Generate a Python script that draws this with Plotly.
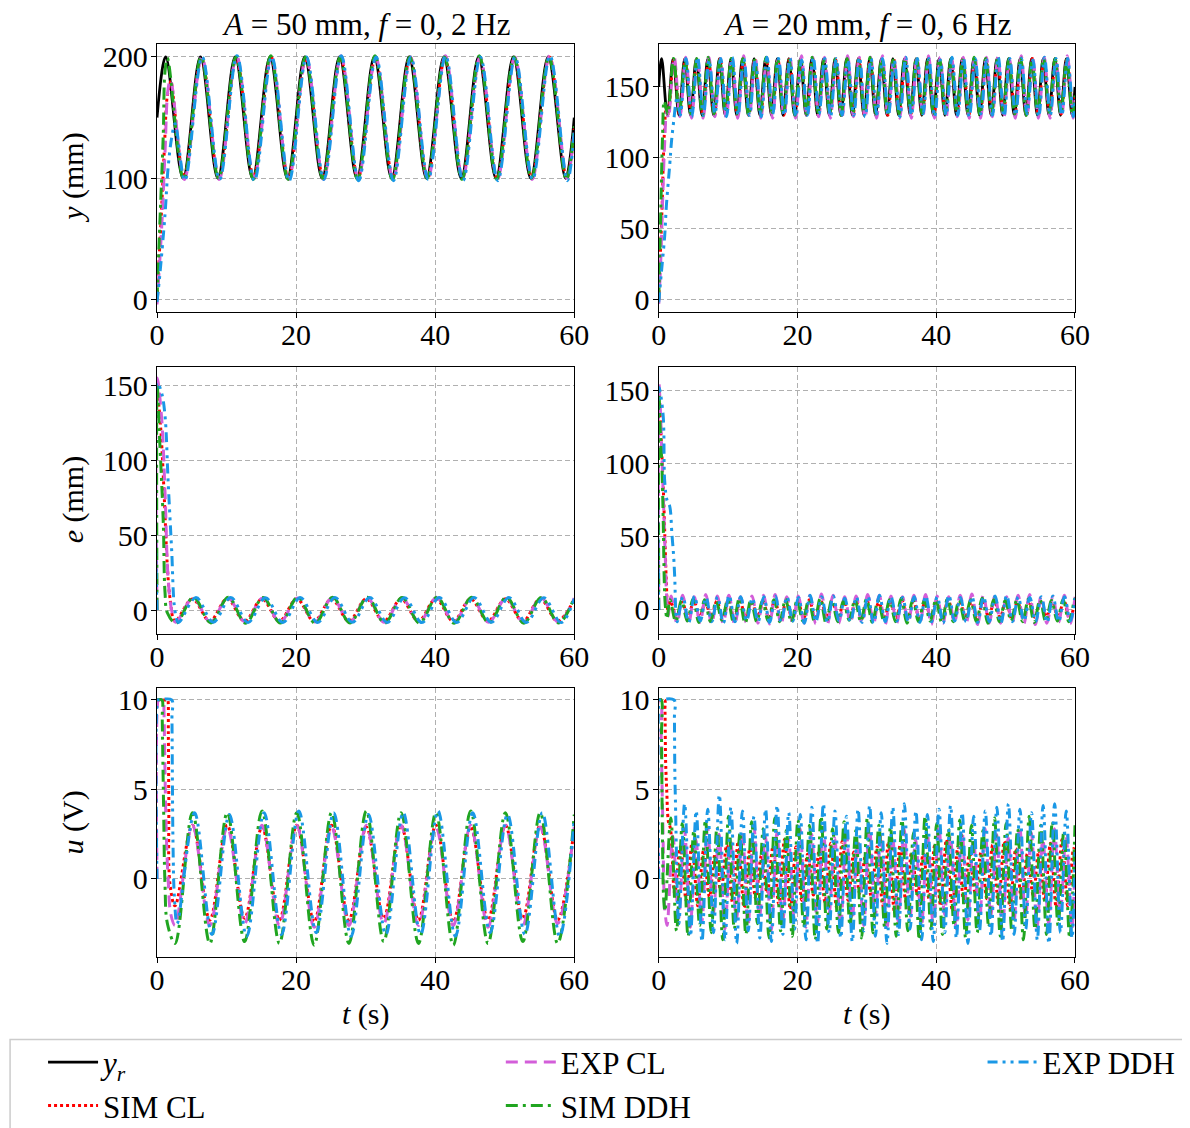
import plotly.graph_objects as go

FONT = "Liberation Serif"
HALF_L = 2.5        # half period (s) of the 0.2 Hz column
HALF_R = 5 / 6      # half period (s) of the 0.6 Hz column
T_END = 60.0

# Each series: transient samples (t, v), then alternating extremes starting at `start`
# spaced by the half period, then the value at t = 60 s.

# ---------------- left column: A = 50 mm, f = 0,2 Hz ----------------
YR_Y_L = dict(t=[0.0], v=[150], start=1.25,
              ext=[200, 100, 200, 100, 200, 100, 200, 100, 200, 100, 200, 100,
                   200, 100, 200, 100, 200, 100, 200, 100, 200, 100, 200, 100], end=150)
SIMCL_Y_L = dict(t=[0, 0.57, 1.05, 1.48, 1.87, 2.0], v=[0, 64, 123, 168, 178, 180], start=3.9,
                 ext=[101, 199, 100, 199, 101, 200, 100, 199, 101, 199, 100, 199,
                      101, 200, 100, 199, 101, 199, 100, 199, 101, 200, 100, 199], end=141)
EXPCL_Y_L = dict(t=[0, 0.67, 1.15, 1.6, 1.95], v=[-4, 59, 121, 174, 181], start=3.95,
                 ext=[99, 200, 99, 201, 100, 200, 99, 200, 99, 201, 100, 200,
                      99, 200, 99, 201, 100, 200, 99, 200, 99, 201, 100, 200], end=140)
SIMDDH_Y_L = dict(t=[0, 0.33, 0.9, 1.15, 1.5], v=[0, 51, 136, 188, 199], start=3.85,
                  ext=[99, 200, 100, 200, 99, 201, 99, 200, 100, 200, 99, 201,
                       99, 200, 100, 200, 99, 201, 99, 200, 100, 200, 99, 201], end=143)
EXPDDH_Y_L = dict(t=[0, 0.4, 1.15, 1.6, 2.1, 2.6], v=[-2, 20, 70, 109, 133, 145], start=4.0,
                  ext=[98, 200, 99, 201, 98, 200, 98, 200, 99, 201, 98, 200,
                       98, 200, 99, 201, 98, 200, 98, 200, 99, 201, 98, 200], end=138)

SIMCL_E_L = dict(t=[0, 0.57, 1.05, 1.48, 1.87], v=[150, 119, 75, 30, 8], start=2.6,
                 ext=[-7.5, 7.4, -7.4, 7.5, -7.5, 7.4, -7.4, 7.5, -7.5, 7.4, -7.4, 7.5,
                      -7.5, 7.4, -7.4, 7.5, -7.5, 7.4, -7.4, 7.5, -7.5, 7.4, -7.4, 7.5], end=7.3)
EXPCL_E_L = dict(t=[0, 0.03, 0.67, 1.15, 1.6, 2.1], v=[0, 155, 128, 79, 21, 0], start=2.7,
                 ext=[-8.2, 8.0, -8.0, 8.2, -8.1, 8.1, -8.2, 8.0, -8.0, 8.2, -8.1, 8.1,
                      -8.2, 8.0, -8.0, 8.2, -8.1, 8.1, -8.2, 8.0, -8.0, 8.2, -8.1, 8.1], end=7.9)
SIMDDH_E_L = dict(t=[0, 0.03, 0.33, 0.9, 1.15, 1.5], v=[0, 150, 119, 59, 12, -2], start=2.75,
                  ext=[-8.8, 8.5, -8.6, 8.6, -8.8, 8.4, -8.7, 8.6, -8.8, 8.5, -8.6, 8.6,
                       -8.8, 8.4, -8.7, 8.6, -8.8, 8.5, -8.6, 8.6, -8.8, 8.4, -8.7, 8.6], end=8.3)
EXPDDH_E_L = dict(t=[0, 0.03, 0.67, 1.15, 1.6, 2.1, 2.6], v=[0, 152, 145, 130, 86, 41, -1], start=3.1,
                  ext=[-8.3, 8.3, -8.2, 8.4, -8.3, 8.2, -8.4, 8.3, -8.3, 8.3, -8.2, 8.4,
                       -8.3, 8.2, -8.4, 8.3, -8.3, 8.3, -8.2, 8.4, -8.3, 8.2, -8.4, 8.3], end=7.5)

SIMCL_U_L = dict(t=[0, 1.5, 1.55, 1.63, 1.7, 1.87], v=[10, 10, 10, 8.1, 4.4, -0.3], start=2.6,
                 ext=[-1.5, 3.0, -2.3, 3.0, -2.2, 2.9, -2.3, 3.0, -2.4, 3.0, -2.3, 2.9,
                      -2.2, 3.0, -2.3, 3.0, -2.4, 2.9, -2.3, 3.0, -2.2, 3.0, -2.3, 2.9], end=2.9)
EXPCL_U_L = dict(t=[0, 0.18, 0.25, 0.95, 1.0, 1.3, 1.6, 2.0], v=[0, 10, 10, 10, 9.5, 3.0, 0.0, -2.0], start=2.6,
                 ext=[-2.6, 3.0, -2.6, 2.9, -2.5, 3.0, -2.6, 3.0, -2.7, 2.9, -2.6, 3.0,
                      -2.5, 3.0, -2.6, 2.9, -2.6, 3.0, -2.7, 3.0, -2.6, 2.9, -2.5, 3.0], end=2.9)
SIMDDH_U_L = dict(t=[0, 0.7, 0.75, 0.95, 1.15, 1.5], v=[10, 10, 9.0, 4.0, -0.3, -2.5], start=2.6,
                  ext=[-3.6, 3.7, -3.6, 3.7, -3.5, 3.8, -3.6, 3.7, -3.7, 3.7, -3.6, 3.8,
                       -3.5, 3.7, -3.6, 3.7, -3.7, 3.8, -3.6, 3.7, -3.5, 3.7, -3.6, 3.8], end=3.6)
EXPDDH_U_L = dict(t=[0, 0.12, 0.2, 2.1, 2.15, 2.3, 2.5], v=[0, 10, 10, 10, 9.0, 2.0, -1.0], start=2.9,
                  ext=[-2.5, 3.7, -3.1, 3.6, -3.2, 3.7, -3.1, 3.8, -3.0, 3.7, -3.2, 3.6,
                       -3.1, 3.7, -3.1, 3.8, -3.2, 3.7, -3.0, 3.6, -3.1, 3.7, -3.2, 3.8], end=3.4)

# ---------------- right column: A = 20 mm, f = 0,6 Hz ----------------
YR_Y_R = dict(t=[0.0], v=[150], start=5 / 12,
              ext=[170, 130, 170, 130, 170, 130, 170, 130, 170, 130, 170, 130, 170, 130, 170, 130, 170, 130,
                   170, 130, 170, 130, 170, 130, 170, 130, 170, 130, 170, 130, 170, 130, 170, 130, 170, 130,
                   170, 130, 170, 130, 170, 130, 170, 130, 170, 130, 170, 130, 170, 130, 170, 130, 170, 130,
                   170, 130, 170, 130, 170, 130, 170, 130, 170, 130, 170, 130, 170, 130, 170, 130, 170, 130], end=150)
SIMCL_Y_R = dict(t=[0, 0.14, 0.48, 0.77, 1.1], v=[0, 19, 65, 113, 136], start=1.35,
                 ext=[131, 169, 130, 170, 131, 169, 131, 169, 130, 170, 131, 169, 130, 169, 131, 170, 130, 169, 131, 169,
                      130, 170, 131, 169, 131, 169, 130, 170, 131, 169, 130, 169, 131, 170, 130, 169, 131, 169, 130, 170,
                      131, 169, 131, 169, 130, 170, 131, 169, 130, 169, 131, 170, 130, 169, 131, 169, 130, 170, 131, 169,
                      131, 169, 130, 170, 131, 169, 130, 169, 131, 170, 130, 169], end=143)
EXPCL_Y_R = dict(t=[0, 0.25, 0.55, 0.85, 1.15], v=[-3, 22, 68, 110, 134], start=1.4,
                 ext=[128, 171, 129, 171, 128, 172, 128, 171, 129, 170, 128, 171, 128, 172, 129, 171, 128, 171, 128, 170,
                      129, 171, 128, 172, 128, 171, 129, 171, 128, 170, 128, 172, 129, 171, 128, 171, 128, 172, 129, 170,
                      128, 171, 128, 171, 129, 172, 128, 171, 128, 170, 129, 171, 128, 172, 128, 171, 129, 171, 128, 170,
                      128, 172, 129, 171, 128, 171, 128, 170, 129, 172, 128, 171], end=141)
SIMDDH_Y_R = dict(t=[0, 0.15, 0.35, 0.55, 0.8], v=[0, 30, 75, 115, 140], start=1.3,
                  ext=[131, 170, 132, 169, 131, 170, 130, 171, 131, 169, 132, 170, 131, 170, 130, 169, 131, 171, 132, 170,
                       131, 169, 130, 170, 131, 171, 132, 169, 131, 170, 130, 170, 131, 169, 132, 171, 131, 170, 130, 169,
                       131, 170, 132, 171, 131, 169, 130, 170, 131, 170, 132, 169, 131, 171, 130, 170, 131, 169, 132, 170,
                       131, 171, 130, 169, 131, 170, 132, 170, 131, 169, 130, 171], end=144)
EXPDDH_Y_R = dict(t=[0, 0.38, 0.86, 1.1, 1.6, 1.83, 2.16, 2.54, 2.7], v=[-2, 19, 45, 66, 96, 111, 126, 141, 143], start=3.1,
                  ext=[130, 170, 129, 171, 130, 169, 131, 170, 129, 171, 130, 170, 130, 169, 129, 171, 131, 170, 130, 170,
                       129, 169, 130, 171, 131, 170, 129, 170, 130, 169, 130, 171, 129, 170, 131, 170, 130, 169, 129, 171,
                       130, 170, 131, 170, 129, 169, 130, 171, 130, 170, 129, 170, 131, 169, 130, 171, 129, 170, 130, 170,
                       131, 169, 129, 171, 130, 170, 130, 170, 129, 169, 131, 171], end=140)

SIMCL_E_R = dict(t=[0, 0.14, 0.62, 0.86, 1.1, 1.35], v=[150, 138, 88, 54, 19, -1], start=1.72,
                 ext=[6, -5, 5.5, -6, 6.5, -5, 5, -4.5, 6, -5.5, 7, -6, 5.5, -5, 6, -4.5, 5, -5.5, 6.5, -6,
                      5.5, -5, 6, -5.5, 7, -6.5, 6, -5, 5, -4.5, 5.5, -5.5, 6.5, -6, 6, -5, 5, -4.5, 6, -5.5,
                      6.5, -6, 5.5, -5, 5, -4.5, 6, -5.5, 7, -6, 6, -5, 5.5, -5.5, 5, -4.5, 6, -5, 6.5, -6,
                      5.5, -5.5, 6, -5, 5, -4.5, 6, -5.5, 6.5, -6, 5.5, -5], end=5.5)
EXPCL_E_R = dict(t=[0, 0.03, 0.25, 0.5, 0.75, 0.95, 1.15, 1.35], v=[0, 155, 135, 100, 65, 35, 8, -4], start=1.79,
                 ext=[9.5, -9, 10, -9.5, 9, -8.5, 10.5, -9.5, 9.5, -9, 10, -10, 9, -8.5, 9.5, -9, 10, -9.5, 10.5, -10,
                      9, -8.5, 9.5, -9, 10, -9.5, 11, -10, 10, -9, 9, -8.5, 9.5, -9, 10.5, -9.5, 10, -10, 9.5, -9,
                      9, -8.5, 10, -9.5, 10.5, -10, 9.5, -9, 9, -8.5, 10, -9.5, 11, -10, 10, -9, 9.5, -9, 9, -8.5,
                      10, -9.5, 10.5, -10, 9.5, -9, 9, -8.5, 10, -9.5, 10, -9], end=9)
SIMDDH_E_R = dict(t=[0, 0.03, 0.2, 0.45, 0.65, 0.8, 0.95, 1.2], v=[0, 150, 125, 100, 60, 20, 3, -6], start=1.62,
                  ext=[7, -8, 6.5, -7.5, 7.5, -8.5, 7, -8, 6, -7, 7, -8.5, 8, -9, 7, -8, 6.5, -7.5, 7, -8,
                       7.5, -8.5, 6.5, -7.5, 7, -8, 8, -9, 7, -8, 6, -7, 7, -8, 7.5, -8.5, 6.5, -7.5, 7, -8,
                       8, -9, 7, -8, 6.5, -7.5, 7, -8.5, 7.5, -8, 6.5, -7.5, 7, -8, 8, -9, 7, -8, 6.5, -7.5,
                       7, -8, 7.5, -8.5, 7, -8, 6.5, -7.5, 7, -8, 7.5, -8.5], end=7)
EXPDDH_E_R = dict(t=[0, 0.03, 0.62, 0.86, 1.2, 1.58, 1.9, 2.16, 2.3], v=[0, 152, 134, 88, 75, 71, 52, 36, 23], start=2.65,
                  ext=[-8, 9, -8.5, 9.5, -7.5, 8.5, -8, 9, -9, 10, -8, 9, -7.5, 8, -8, 9, -8.5, 9.5, -8, 9,
                       -7.5, 8.5, -9, 10, -8, 9, -8.5, 9.5, -7.5, 8, -8, 9, -8.5, 9.5, -9, 10, -8, 9, -7.5, 8.5,
                       -8, 9, -8.5, 9.5, -8, 9, -9, 10, -7.5, 8.5, -8, 9, -8.5, 9, -8, 9.5, -9, 10, -8, 9,
                       -7.5, 8.5, -8, 9, -8.5, 9.5, -8, 9, -7.5, 8.5, -8, 9], end=8)

SIMCL_U_R = dict(t=[0, 0.85, 0.9, 1.0, 1.15, 1.4, 1.7], v=[10, 10, 9.5, 6.5, 5.0, 3.2, 2.8], start=2.3,
                 ext=[-0.8, 1.8, -1.2, 2.0, -1.5, 1.6, -1.0, 1.4, -0.7, 1.9, -1.3, 2.1, -1.6, 1.7, -1.1, 1.3, -0.8, 1.8, -1.4, 2.2,
                      -1.7, 1.8, -1.2, 1.4, -0.9, 1.6, -1.3, 2.0, -1.6, 2.1, -1.2, 1.5, -0.8, 1.3, -1.0, 1.8, -1.5, 2.1, -1.8, 1.9,
                      -1.3, 1.5, -0.9, 1.4, -1.1, 1.9, -1.5, 2.2, -1.7, 1.8, -1.2, 1.4, -0.8, 1.5, -1.1, 1.9, -1.4, 2.1, -1.6, 1.7,
                      -1.2, 1.4, -0.9, 1.6, -1.2, 2.0, -1.6, 2.2, -1.5, 1.7, -1.0, 1.4], end=1.5)
EXPCL_U_R = dict(t=[0, 0.03, 0.3, 0.35, 0.6, 0.85], v=[0, 10, 10, 8, 3, -1.5], start=1.2,
                 ext=[-2.6, 2.4, -2.2, 2.8, -2.7, 2.2, -2.4, 2.9, -2.0, 2.5, -2.8, 2.1, -2.3, 2.7, -2.6, 3.0, -2.1, 2.4, -2.9, 2.6,
                      -2.4, 2.2, -2.2, 2.8, -2.7, 2.5, -2.5, 2.9, -2.0, 2.3, -2.8, 2.7, -2.3, 2.1, -2.6, 2.9, -2.1, 2.5, -2.9, 2.4,
                      -2.4, 2.8, -2.2, 2.2, -2.7, 2.6, -2.5, 3.0, -2.0, 2.4, -2.8, 2.7, -2.3, 2.2, -2.6, 2.8, -2.1, 2.5, -2.9, 2.3,
                      -2.4, 2.9, -2.2, 2.6, -2.7, 2.2, -2.5, 2.8, -2.0, 2.4, -2.8, 2.6], end=1.0)
SIMDDH_U_R = dict(t=[0, 0.35, 0.4, 0.55, 0.7], v=[10, 10, 8, 2, -1.0], start=0.9,
                  ext=[-1.8, 3.4, -2.9, 3.1, -3.2, 2.7, -2.6, 3.3, -3.0, 2.9, -3.4, 3.5, -2.8, 2.6, -3.1, 3.2, -2.5, 2.8, -3.3, 3.4,
                       -2.9, 2.7, -3.2, 3.3, -2.7, 3.0, -3.4, 3.5, -2.8, 2.8, -3.0, 3.2, -2.6, 2.7, -3.3, 3.4, -3.0, 3.0, -2.7, 2.9,
                       -3.2, 3.3, -2.9, 2.6, -3.4, 3.5, -2.8, 3.1, -3.1, 2.8, -2.6, 3.3, -3.3, 3.0, -3.0, 2.7, -2.7, 3.4, -3.2, 3.1,
                       -2.9, 2.8, -3.4, 3.5, -2.8, 3.0, -3.1, 3.2, -2.6, 2.7, -3.3, 3.3], end=3.0)
EXPDDH_U_R = dict(t=[0, 0.1, 0.15, 2.2, 2.26, 2.32, 2.4], v=[0, 10, 10, 10, 9, 6, 4.5], start=2.9,
                  ext=[-2.5, 4.2, -3.2, 3.8, -3.5, 3.9, -3.0, 4.7, -3.4, 4.0, -3.6, 3.8, -2.9, 3.5, -3.3, 3.9, -3.5, 4.1, -3.1, 3.7,
                       -2.8, 3.6, -3.4, 4.0, -3.6, 4.2, -3.0, 3.8, -3.3, 3.5, -3.5, 3.9, -2.9, 4.1, -3.2, 3.7, -3.6, 4.0, -3.1, 4.2,
                       -2.8, 3.8, -3.4, 3.6, -3.5, 3.9, -3.0, 4.1, -3.3, 3.7, -3.6, 3.5, -2.9, 3.8, -3.2, 4.0, -3.5, 4.2, -3.1, 3.9,
                       -2.8, 3.7, -3.4, 4.1, -3.6, 4.2, -3.0, 3.8, -3.3, 3.6, -3.5, 4.0], end=1.5)

TITLES = ["<i>A</i> = 50 mm, <i>f</i> = 0, 2 Hz", "<i>A</i> = 20 mm, <i>f</i> = 0, 6 Hz"]
YLABELS = ["<i>y</i> (mm)", "<i>e</i> (mm)", "<i>u</i> (V)"]
XLABEL = "<i>t</i> (s)"
XTICKS = [0, 20, 40, 60]

# ---------------- styling ----------------
STYLE = {
    "yr": dict(name="<i>y</i><sub><i>r</i></sub>", color="black", dash="solid", width=2.8, legend="legend"),
    "simcl": dict(name="SIM CL", color="#ff0000", dash="dot", width=3, legend="legend"),
    "expcl": dict(name="EXP CL", color="#d35ed9", dash="12px,7px", width=3, legend="legend2"),
    "simddh": dict(name="SIM DDH", color="#20a520", dash="12px,5px,3px,5px", width=3, legend="legend2"),
    "expddh": dict(name="EXP DDH", color="#1a98e6", dash="10px,5px,3px,5px,3px,5px", width=3, legend="legend3"),
}

PANELS = [
    (1, 1, [-9.9, 210.7], [0, 100, 200],
     [("yr", YR_Y_L), ("simcl", SIMCL_Y_L), ("expcl", EXPCL_Y_L), ("simddh", SIMDDH_Y_L), ("expddh", EXPDDH_Y_L)], HALF_L),
    (1, 2, [-8.45, 180.3], [0, 50, 100, 150],
     [("yr", YR_Y_R), ("simcl", SIMCL_Y_R), ("expcl", EXPCL_Y_R), ("simddh", SIMDDH_Y_R), ("expddh", EXPDDH_Y_R)], HALF_R),
    (2, 1, [-16.0, 162.7], [0, 50, 100, 150],
     [("simcl", SIMCL_E_L), ("expcl", EXPCL_E_L), ("simddh", SIMDDH_E_L), ("expddh", EXPDDH_E_L)], HALF_L),
    (2, 2, [-16.4, 166.4], [0, 50, 100, 150],
     [("simcl", SIMCL_E_R), ("expcl", EXPCL_E_R), ("simddh", SIMDDH_E_R), ("expddh", EXPDDH_E_R)], HALF_R),
    (3, 1, [-4.36, 10.67], [0, 5, 10],
     [("simcl", SIMCL_U_L), ("expcl", EXPCL_U_L), ("simddh", SIMDDH_U_L), ("expddh", EXPDDH_U_L)], HALF_L),
    (3, 2, [-4.36, 10.67], [0, 5, 10],
     [("simcl", SIMCL_U_R), ("expcl", EXPCL_U_R), ("simddh", SIMDDH_U_R), ("expddh", EXPDDH_U_R)], HALF_R),
]


def build(s, half):
    t = list(s["t"])
    v = list(s["v"])
    for i, val in enumerate(s["ext"]):
        ti = s["start"] + i * half
        if ti < T_END - 0.03:
            t.append(round(ti, 4))
            v.append(val)
    t.append(T_END)
    v.append(s["end"])
    return t, v


# pixel layout (page coordinates; the page body adds an 8 px offset)
OFF = 8
W, H = 1190 - OFF, 1128 - OFF
L, R, T, B = 157, 1075.5, 44, 957.5   # plot-area edges in page pixels
PW, PH = R - L, B - T


def px_x(p):
    return (p - L) / PW


def px_y(p):
    return (B - p) / PH


XDOM = {1: [0, px_x(574.5)], 2: [px_x(659), 1]}
YDOM = {1: [px_y(311.7), 1], 2: [px_y(634.3), px_y(366.7)], 3: [0, px_y(688.3)]}

fig = go.Figure()
shown = set()
layout = {}
for (r, c, yr, yt, series, half) in PANELS:
    idx = (r - 1) * 2 + c
    xa = "x" if idx == 1 else f"x{idx}"
    ya = "y" if idx == 1 else f"y{idx}"
    for key, s in series:
        st = STYLE[key]
        tt, vv = build(s, half)
        fig.add_trace(go.Scatter(
            x=tt, y=vv, mode="lines", name=st["name"], xaxis=xa, yaxis=ya,
            line=dict(color=st["color"], width=st["width"], dash=st["dash"], shape="spline", smoothing=1),
            legend=st["legend"], showlegend=key not in shown, legendgroup=key,
        ))
        shown.add(key)
    common = dict(showline=True, linecolor="black", linewidth=1.3, mirror=True,
                  ticks="outside", ticklen=5, tickwidth=1.3, tickcolor="black",
                  showgrid=True, gridcolor="#b0b0b0", gridwidth=1, griddash="5px,3px",
                  zeroline=False, tickfont=dict(family=FONT, size=30, color="black"))
    layout["xaxis" if idx == 1 else f"xaxis{idx}"] = dict(
        common, domain=XDOM[c], range=[0, 60], tickvals=XTICKS, anchor=ya, ticklabelstandoff=-9)
    layout["yaxis" if idx == 1 else f"yaxis{idx}"] = dict(
        common, domain=YDOM[r], range=yr, tickvals=yt, anchor=xa, ticklabelstandoff=-3)

ann = []
for c, title in zip([1, 2], TITLES):
    xc = (XDOM[c][0] + XDOM[c][1]) / 2
    ann.append(dict(text=title, xref="paper", yref="paper", x=xc, y=px_y(24), showarrow=False,
                    xanchor="center", yanchor="middle", font=dict(family=FONT, size=31, color="black")))
    ann.append(dict(text=XLABEL, xref="paper", yref="paper", x=xc, y=px_y(1015), showarrow=False,
                    xanchor="center", yanchor="middle", font=dict(family=FONT, size=30, color="black")))
for r, lab in zip([1, 2, 3], YLABELS):
    yc = (YDOM[r][0] + YDOM[r][1]) / 2
    ann.append(dict(text=lab, xref="paper", yref="paper", x=px_x(73), y=yc, showarrow=False, textangle=-90,
                    xanchor="center", yanchor="middle", font=dict(family=FONT, size=30, color="black")))

ITEMW = 50
leg_common = dict(font=dict(family=FONT, size=31, color="black"), bgcolor="rgba(0,0,0,0)", borderwidth=0,
                  orientation="v", xanchor="left", yanchor="top", y=px_y(1036), tracegroupgap=0,
                  itemwidth=ITEMW)
TEXT_X = [103, 561, 1043]   # page x where the legend texts start

fig.update_layout(
    width=W, height=H, autosize=False,
    margin=dict(l=L - OFF, r=W - (R - OFF), t=T - OFF, b=H - (B - OFF), autoexpand=False),
    paper_bgcolor="white", plot_bgcolor="white",
    annotations=ann,
    legend=dict(leg_common, x=px_x(TEXT_X[0] - ITEMW - 10)),
    legend2=dict(leg_common, x=px_x(TEXT_X[1] - ITEMW - 10)),
    legend3=dict(leg_common, x=px_x(TEXT_X[2] - ITEMW - 10)),
    shapes=[dict(type="rect", xref="paper", yref="paper", x0=px_x(10), x1=px_x(1200),
                 y0=px_y(1040), y1=px_y(1140), line=dict(color="#cccccc", width=1.5),
                 fillcolor="rgba(0,0,0,0)", layer="below")],
    **layout,
)

fig.write_html("out.html")
